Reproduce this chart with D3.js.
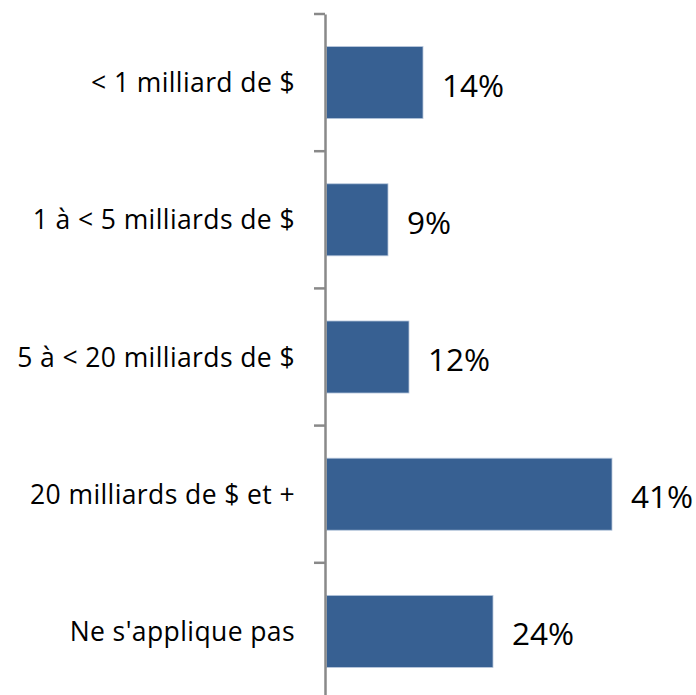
<!DOCTYPE html>
<html>
<head>
<meta charset="utf-8">
<script src="https://cdn.jsdelivr.net/npm/d3@7"></script>
<style>
  html, body { margin: 0; padding: 0; background: #fff; }
  svg { display: block; }
</style>
</head>
<body>
<svg id="chart" width="696" height="695"></svg>
<script>
// Répartition par taille (actifs)
const categories = [
  "< 1 milliard de $",
  "1 à < 5 milliards de $",
  "5 à < 20 milliards de $",
  "20 milliards de $ et +",
  "Ne s'applique pas"
];
const values = [14, 9, 12, 41, 24];

const svg = d3.select("#chart");
const axisX = 325;
const font = "'Open Sans', Lato, sans-serif";

const y = d3.scaleBand()
  .domain(categories)
  .range([14, 700])
  .paddingInner(0.475)
  .paddingOuter(0.2375);

const x = d3.scaleLinear()
  .domain([0, 1])
  .range([axisX, axisX + 700]);

// Bars
svg.append("g")
  .selectAll("rect")
  .data(values)
  .join("rect")
  .attr("x", x(0) + 1.5)
  .attr("y", (d, i) => y(categories[i]))
  .attr("width", d => x(d / 100) - x(0) - 1.5)
  .attr("height", y.bandwidth())
  .attr("fill", "#376092")
  .attr("stroke", "#b8c8dd")
  .attr("stroke-width", 0.8);

// Category axis
const axis = d3.axisLeft(y)
  .tickSizeInner(0)
  .tickSizeOuter(0)
  .tickPadding(30);

const gAxis = svg.append("g")
  .attr("transform", `translate(${axisX},0)`)
  .call(axis);

gAxis.select(".domain")
  .attr("stroke", "#898989")
  .attr("stroke-width", 2.5);

gAxis.selectAll(".tick text")
  .attr("font-family", font)
  .attr("font-size", 26.5)
  .attr("letter-spacing", 0.4)
  .attr("fill", "#000")
  .attr("dy", "0.36em");

// Tick marks on band boundaries
const boundaries = categories.map(c => y(c) - y.step() * y.paddingInner() / 2)
  .map((v, i) => i === 0 ? 14 : v);
gAxis.append("g")
  .selectAll("line")
  .data(boundaries)
  .join("line")
  .attr("x1", -11)
  .attr("x2", 0)
  .attr("y1", d => d)
  .attr("y2", d => d)
  .attr("stroke", "#898989")
  .attr("stroke-width", 2.5);

// Value labels
svg.append("g")
  .selectAll("text")
  .data(values)
  .join("text")
  .attr("x", d => x(d / 100) + 19)
  .attr("y", (d, i) => y(categories[i]) + y.bandwidth() / 2 + 3)
  .attr("dy", "0.35em")
  .attr("font-family", font)
  .attr("font-size", 31.5)
  .attr("fill", "#000")
  .text(d => d + "%");
</script>
</body>
</html>
